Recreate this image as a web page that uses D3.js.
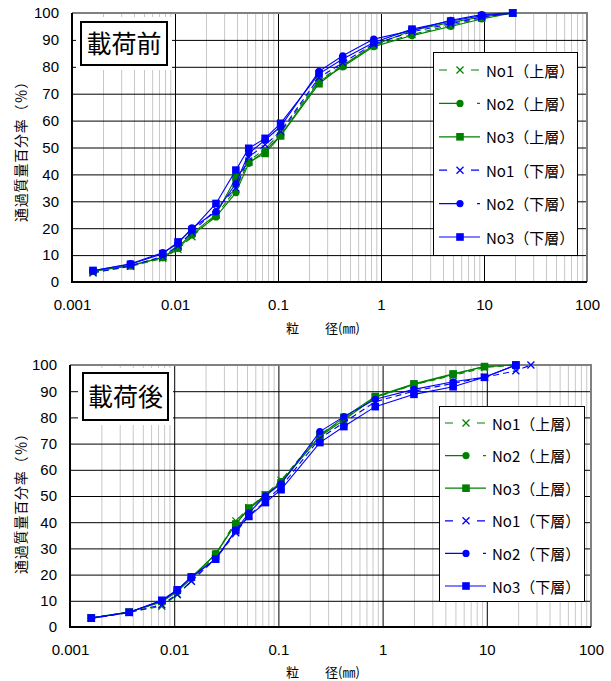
<!DOCTYPE html>
<html>
<head>
<meta charset="utf-8">
<script src="https://cdn.jsdelivr.net/npm/d3@7"></script>
<style>
  body { margin: 0; background: #fff; }
  svg { display: block; font-family: "Liberation Sans", "Noto Sans CJK JP", sans-serif; }
  .cjk { font-family: "Noto Sans CJK JP", sans-serif; }
</style>
</head>
<body>
<svg id="chart" width="611" height="681"></svg>
<script>
// sieve / hydrometer grain sizes (mm)
const sizes = [0.0016, 0.0037, 0.0076, 0.0107, 0.0146, 0.025, 0.039, 0.052, 0.075, 0.106, 0.25, 0.425, 0.85, 2, 4.75, 9.5, 19];
const sizesLong = [0.0016, 0.0037, 0.0076, 0.0107, 0.0146, 0.025, 0.039, 0.052, 0.075, 0.106, 0.25, 0.425, 0.85, 2, 4.75, 9.5, 19, 26.5];

const xTickLabels = ["0.001", "0.01", "0.1", "1", "10", "100"];
const yTickLabels = [0, 10, 20, 30, 40, 50, 60, 70, 80, 90, 100];

const seriesNames = ["No1（上層）", "No2（上層）", "No3（上層）", "No1（下層）", "No2（下層）", "No3（下層）"];

// 載荷前 (before loading)
const beforeUpper1 = [3.5, 5.8, 8.8, 12.2, 16.8, 24.8, 34.5, 45.0, 49.5, 55.5, 75.0, 80.5, 88.0, 92.0, 95.5, 98.0, 100];
const beforeUpper2 = [4.0, 6.2, 9.0, 12.5, 17.5, 24.2, 33.2, 44.1, 48.8, 54.5, 74.5, 80.0, 87.5, 91.6, 95.0, 97.8, 100];
const beforeUpper3 = [4.0, 6.0, 9.2, 13.0, 18.0, 25.0, 38.8, 44.5, 47.8, 54.3, 73.7, 80.5, 88.0, 93.5, 96.5, 98.5, 100];
const beforeLower1 = [3.4, 6.0, 9.5, 13.5, 18.5, 27.0, 35.0, 46.5, 51.0, 56.0, 76.0, 81.5, 88.5, 93.0, 96.0, 98.5, 100];
const beforeLower2 = [4.2, 6.8, 10.9, 14.3, 20.1, 26.1, 36.6, 47.8, 52.8, 57.8, 78.3, 84.1, 90.3, 93.5, 97.3, 99.4, 100];
const beforeLower3 = [4.3, 6.6, 10.5, 14.9, 19.5, 29.2, 41.6, 49.7, 53.4, 59.0, 77.4, 82.9, 89.0, 94.0, 97.0, 99.0, 100];

// 載荷後 (after loading)
const afterUpper1 = [3.5, 5.8, 7.9, 12.3, 17.4, 27.5, 40.5, 45.5, 50.5, 56.0, 73.5, 79.5, 87.5, 92.5, 96.0, 99.0, 100];
const afterUpper2 = [3.4, 5.6, 9.5, 13.5, 18.5, 28.0, 39.5, 45.0, 50.0, 55.5, 72.7, 79.0, 87.7, 92.6, 96.4, 99.4, 100];
const afterUpper3 = [3.5, 5.7, 9.8, 14.0, 19.0, 27.8, 39.3, 45.4, 50.4, 55.0, 73.0, 80.0, 88.0, 92.8, 96.6, 99.4, 100];
const afterLower1 = [3.3, 5.5, 8.5, 12.5, 17.5, 26.0, 36.0, 42.5, 48.0, 53.5, 72.0, 78.0, 86.0, 90.0, 93.0, 95.3, 97.8, 100];
const afterLower2 = [3.4, 5.6, 10.0, 14.0, 19.0, 25.9, 37.0, 43.5, 50.1, 54.6, 74.6, 80.3, 86.9, 90.7, 93.6, 95.3, 100];
const afterLower3 = [3.4, 5.6, 10.2, 14.2, 19.1, 25.9, 36.8, 42.2, 47.5, 52.4, 70.4, 76.5, 84.1, 88.8, 91.7, 95.3, 100];

const green = "#008000";
const blue = "#0000ff";
const styles = [
  { color: green, marker: "x", dash: "6,4", legendDash: "8,24" },
  { color: green, marker: "circle", dash: null, legendDash: "21,17,3,100" },
  { color: green, marker: "square", dash: null, legendDash: null },
  { color: blue, marker: "x", dash: "6,4", legendDash: "8,24" },
  { color: blue, marker: "circle", dash: null, legendDash: "21,17,3,100" },
  { color: blue, marker: "square", dash: null, legendDash: null },
];

const svg = d3.select("#chart");

function drawMarker(g, type, color, cx, cy) {
  if (type === "x") {
    const s = 3.5;
    g.append("path")
      .attr("d", `M${cx - s},${cy - s}L${cx + s},${cy + s}M${cx - s},${cy + s}L${cx + s},${cy - s}`)
      .attr("stroke", color).attr("stroke-width", 1.3).attr("fill", "none");
  } else if (type === "circle") {
    g.append("circle").attr("cx", cx).attr("cy", cy).attr("r", 3.6).attr("fill", color);
  } else {
    g.append("rect").attr("x", cx - 3.8).attr("y", cy - 3.8).attr("width", 7.6).attr("height", 7.6).attr("fill", color);
  }
}

function drawChart(cfg) {
  const { left, right, top, bottom } = cfg;
  const w = right - left, h = bottom - top;

  const x = d3.scaleLog().domain([0.001, 100]).range([0, w]);
  const y = d3.scaleLinear().domain([0, 100]).range([h, 0]);

  const g = svg.append("g").attr("transform", `translate(${left},${top})`);

  // minor vertical grid
  const minor = [];
  for (let e = -3; e < 2; e++) for (let m = 2; m <= 9; m++) minor.push(m * Math.pow(10, e));
  g.append("g")
    .attr("transform", `translate(0,${h})`)
    .call(d3.axisBottom(x).tickValues(minor).tickSize(-h).tickFormat(""))
    .call(a => a.select(".domain").remove())
    .call(a => a.selectAll("line").attr("stroke", "#c8c8c8"));

  // horizontal grid
  g.append("g")
    .call(d3.axisLeft(y).tickValues(yTickLabels).tickSize(-w).tickFormat(""))
    .call(a => a.select(".domain").remove())
    .call(a => a.selectAll("line").attr("stroke", "#000"));

  // major vertical grid
  g.append("g")
    .attr("transform", `translate(0,${h})`)
    .call(d3.axisBottom(x).tickValues(xTickLabels.map(Number)).tickSize(-h).tickFormat(""))
    .call(a => a.select(".domain").remove())
    .call(a => a.selectAll("line").attr("stroke", "#000"));

  // title box
  const tb = cfg.titleBox;
  g.append("rect")
    .attr("x", tb.x - left - 5).attr("y", tb.y - top - 5)
    .attr("width", tb.w + 10).attr("height", tb.h + 10).attr("fill", "#fff");
  g.append("rect")
    .attr("x", tb.x - left).attr("y", tb.y - top)
    .attr("width", tb.w).attr("height", tb.h)
    .attr("fill", "#fff").attr("stroke", "#000").attr("stroke-width", 2);
  g.append("text")
    .attr("class", "cjk")
    .attr("x", tb.x - left + tb.w / 2).attr("y", tb.y - top + tb.h / 2 + 9)
    .attr("text-anchor", "middle")
    .attr("font-size", 25)
    .text(cfg.title);

  // plot frame
  g.append("path").attr("d", `M0,0H${w}V${h}`).attr("fill", "none")
    .attr("stroke", "#808080").attr("stroke-width", 2);
  g.append("path").attr("d", `M0,0V${h}H${w}`).attr("fill", "none")
    .attr("stroke", "#000").attr("stroke-width", 2);

  // axes labels
  g.append("g")
    .attr("transform", `translate(0,${h})`)
    .call(d3.axisBottom(x).tickValues(xTickLabels.map(Number)).tickSize(0).tickPadding(17)
      .tickFormat((d, i) => xTickLabels[i]))
    .call(a => a.select(".domain").remove())
    .call(a => a.selectAll("text").attr("font-size", 15).attr("fill", "#000")
      .attr("font-family", "Liberation Sans, sans-serif"));

  g.append("g")
    .call(d3.axisLeft(y).tickValues(yTickLabels).tickSize(0).tickPadding(13))
    .call(a => a.select(".domain").remove())
    .call(a => a.selectAll("text").attr("font-size", 15).attr("fill", "#000")
      .attr("font-family", "Liberation Sans, sans-serif"));

  // y title
  g.append("text")
    .attr("class", "cjk")
    .attr("transform", `translate(${20 - left},${cfg.yTitleY - top}) rotate(-90)`)
    .attr("text-anchor", "middle")
    .attr("dominant-baseline", "central")
    .attr("font-size", 14)
    .attr("letter-spacing", 0.8)
    .text("通過質量百分率（％）");

  // x title
  g.append("text")
    .attr("class", "cjk")
    .attr("x", 286 - left).attr("y", cfg.xTitleY - top)
    .attr("font-size", 13)
    .text("粒　　径(㎜)");

  // series
  const line = d3.line().x(d => x(d[0])).y(d => y(d[1]));
  cfg.series.forEach((s, i) => {
    const st = styles[i];
    const pts = s.values.map((v, j) => [s.sizes[j], v]);
    const sg = g.append("g");
    sg.append("path")
      .attr("d", line(pts))
      .attr("fill", "none")
      .attr("stroke", st.color)
      .attr("stroke-width", 1.1)
      .attr("stroke-dasharray", st.dash);
    pts.forEach(p => drawMarker(sg, st.marker, st.color, x(p[0]), y(p[1])));
  });

  // legend
  const lg = cfg.legend;
  const leg = svg.append("g");
  leg.append("rect")
    .attr("x", lg.x + 0.5).attr("y", lg.y + 0.5)
    .attr("width", lg.w).attr("height", lg.h)
    .attr("fill", "#fff").attr("stroke", "#000").attr("stroke-width", 1);
  seriesNames.forEach((name, i) => {
    const st = styles[i];
    const ry = lg.rowY + i * lg.rowStep;
    const lx = lg.x + 6;
    leg.append("line")
      .attr("x1", lx).attr("x2", lx + 41)
      .attr("y1", ry).attr("y2", ry)
      .attr("stroke", st.color).attr("stroke-width", 1.2)
      .attr("stroke-dasharray", st.legendDash);
    drawMarker(leg, st.marker, st.color, lx + 21, ry);
    leg.append("text")
      .attr("class", "cjk")
      .attr("x", lx + 47).attr("y", ry)
      .attr("dominant-baseline", "central")
      .attr("font-size", 15)
      .text(name);
  });
}

drawChart({
  left: 72, right: 587, top: 13, bottom: 282,
  title: "載荷前",
  titleBox: { x: 81, y: 22, w: 86, h: 43 },
  yTitleY: 148, xTitleY: 333,
  legend: { x: 433, y: 52, w: 144, h: 203, rowY: 70, rowStep: 33.4 },
  series: [
    { sizes: sizes, values: beforeUpper1 },
    { sizes: sizes, values: beforeUpper2 },
    { sizes: sizes, values: beforeUpper3 },
    { sizes: sizes, values: beforeLower1 },
    { sizes: sizes, values: beforeLower2 },
    { sizes: sizes, values: beforeLower3 },
  ]
});

drawChart({
  left: 70, right: 591, top: 365, bottom: 627,
  title: "載荷後",
  titleBox: { x: 83, y: 373, w: 85, h: 47 },
  yTitleY: 500, xTitleY: 677,
  legend: { x: 439, y: 406, w: 145, h: 195, rowY: 423, rowStep: 32.6 },
  series: [
    { sizes: sizes, values: afterUpper1 },
    { sizes: sizes, values: afterUpper2 },
    { sizes: sizes, values: afterUpper3 },
    { sizes: sizesLong, values: afterLower1 },
    { sizes: sizes, values: afterLower2 },
    { sizes: sizes, values: afterLower3 },
  ]
});
</script>
</body>
</html>
